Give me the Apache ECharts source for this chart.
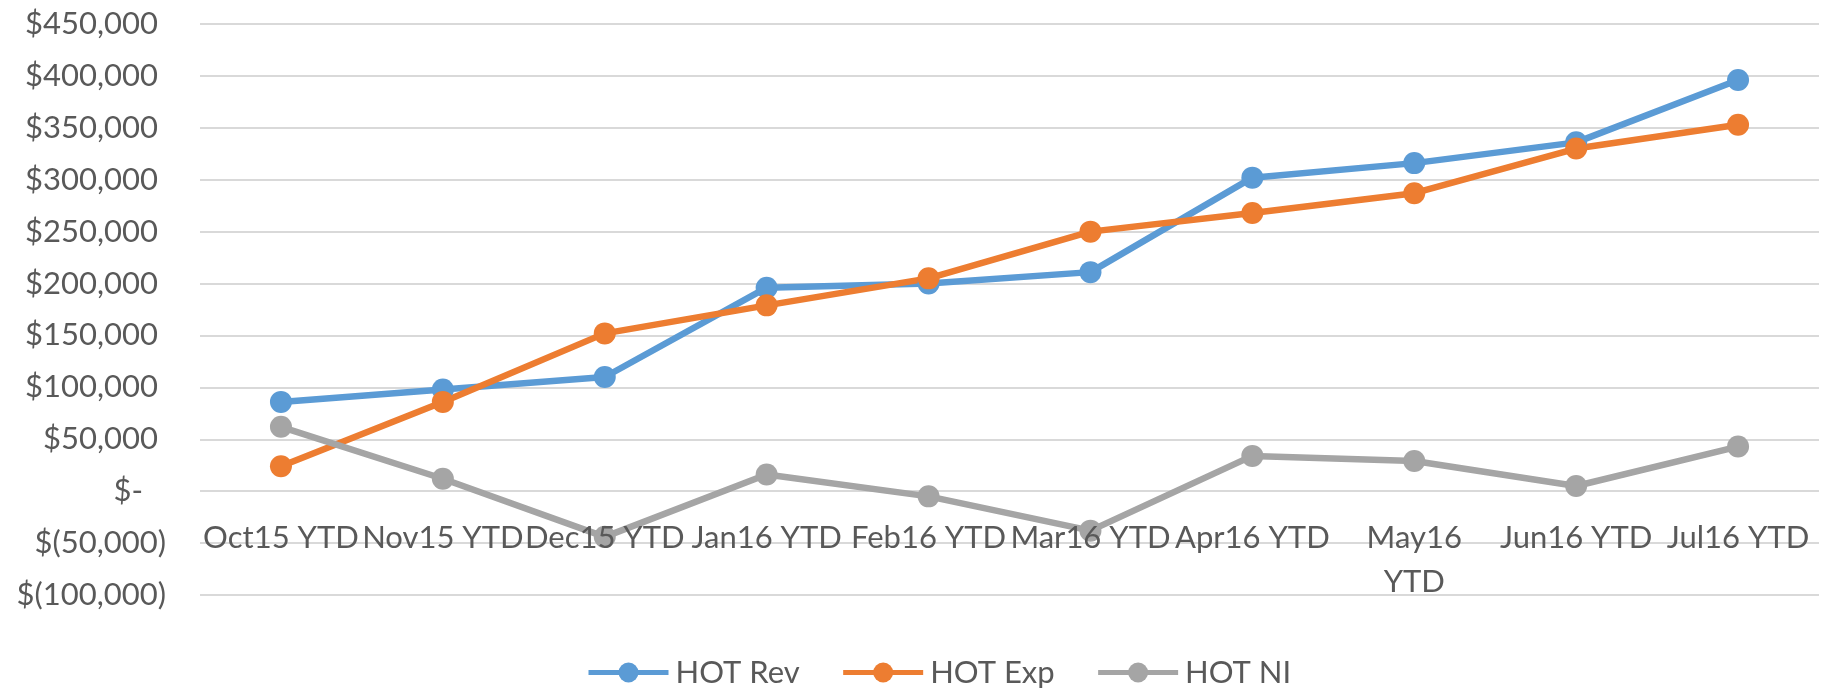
<!DOCTYPE html>
<html>
<head>
<meta charset="utf-8">
<title>HOT Rev / Exp / NI</title>
<script src="https://cdn.jsdelivr.net/npm/echarts@6/dist/echarts.min.js"></script>
<style>
  html, body { margin: 0; padding: 0; background: #fff; }
  #chart { width: 1827px; height: 689px; }
</style>
</head>
<body>
<div id="chart"></div>
<script>
// categories (x axis)
var months = ['Oct15 YTD', 'Nov15 YTD', 'Dec15 YTD', 'Jan16 YTD', 'Feb16 YTD',
              'Mar16 YTD', 'Apr16 YTD', 'May16 YTD', 'Jun16 YTD', 'Jul16 YTD'];

// series values
var hotRev = [86000, 98000, 110000, 196000, 200000, 211000, 302000, 316000, 336000, 396000];
var hotExp = [24000, 86000, 152000, 179000, 205000, 250000, 268000, 287000, 330000, 353000];
var hotNI  = [62000, 12000, -44000, 16000, -5000, -38000, 34000, 29000, 5000, 43000];

// y axis range
var yMin = -100000;
var yMax = 450000;
var yStep = 50000;

var textColor = '#595959';
var fontName = 'Lato';

// plot box (px)
var gridTop = 24;
var gridBottom = 94;
var plotH = 689 - gridTop - gridBottom;
// category axis sits on the zero line, like in the workbook
var zeroShift = -plotH * (0 - yMin) / (yMax - yMin);

// accounting style tick labels: $450,000  $-  $(50,000)
function money(v) {
    if (v === 0) return '{z|$-}';
    var s = Math.abs(v).toLocaleString('en-US');
    if (v < 0) return '{n|$(' + s + ')}';
    return '{p|$' + s + '}';
}

var dom = document.getElementById('chart');
var myChart = echarts.init(dom, null, { renderer: 'canvas' });

var option = {
    backgroundColor: '#ffffff',
    animation: false,
    color: ['#5B9BD5', '#ED7D31', '#A5A5A5'],
    grid: {
        left: 200, right: 8, top: gridTop, bottom: gridBottom,
        containLabel: false,
        outerBoundsMode: 'none'
    },
    legend: {
        left: 581,
        top: 652,
        itemWidth: 80,
        itemHeight: 25,
        itemGap: 41,
        lineStyle: { width: 5 },
        textStyle: { color: textColor, fontFamily: fontName, fontSize: 31, padding: [0, 0, 0, 2] },
        data: ['HOT Rev', 'HOT Exp', 'HOT NI']
    },
    xAxis: {
        type: 'category',
        data: months,
        boundaryGap: true,
        position: 'bottom',
        offset: zeroShift,
        zlevel: 1, // labels over the lines, as in the original
        axisLine: { show: false, onZero: false },
        axisTick: { show: false },
        axisLabel: {
            color: textColor,
            fontFamily: fontName,
            fontSize: 31,
            lineHeight: 44,
            margin: 25,
            interval: 0,
            formatter: function (v) {
                return v === 'May16 YTD' ? 'May16\nYTD' : v;
            }
        }
    },
    yAxis: {
        type: 'value',
        min: yMin,
        max: yMax,
        interval: yStep,
        axisLine: { show: false },
        axisTick: { show: false },
        splitLine: { lineStyle: { color: '#D9D9D9', width: 2 } },
        axisLabel: {
            margin: 34,
            formatter: money,
            rich: {
                p: { color: textColor, fontFamily: fontName, fontSize: 31, padding: [0, 8, 0, 0] },
                n: { color: textColor, fontFamily: fontName, fontSize: 31 },
                z: { color: textColor, fontFamily: fontName, fontSize: 31, padding: [0, 23, 0, 0] }
            }
        }
    },
    series: [
        {
            name: 'HOT Rev',
            type: 'line',
            data: hotRev,
            symbol: 'circle',
            symbolSize: 22,
            lineStyle: { width: 6.5 }
        },
        {
            name: 'HOT Exp',
            type: 'line',
            data: hotExp,
            symbol: 'circle',
            symbolSize: 22,
            lineStyle: { width: 6.5 }
        },
        {
            name: 'HOT NI',
            type: 'line',
            data: hotNI,
            symbol: 'circle',
            symbolSize: 22,
            lineStyle: { width: 6.5 }
        }
    ]
};

if (option && typeof option === 'object') {
    myChart.setOption(option, true);
}
</script>
</body>
</html>
